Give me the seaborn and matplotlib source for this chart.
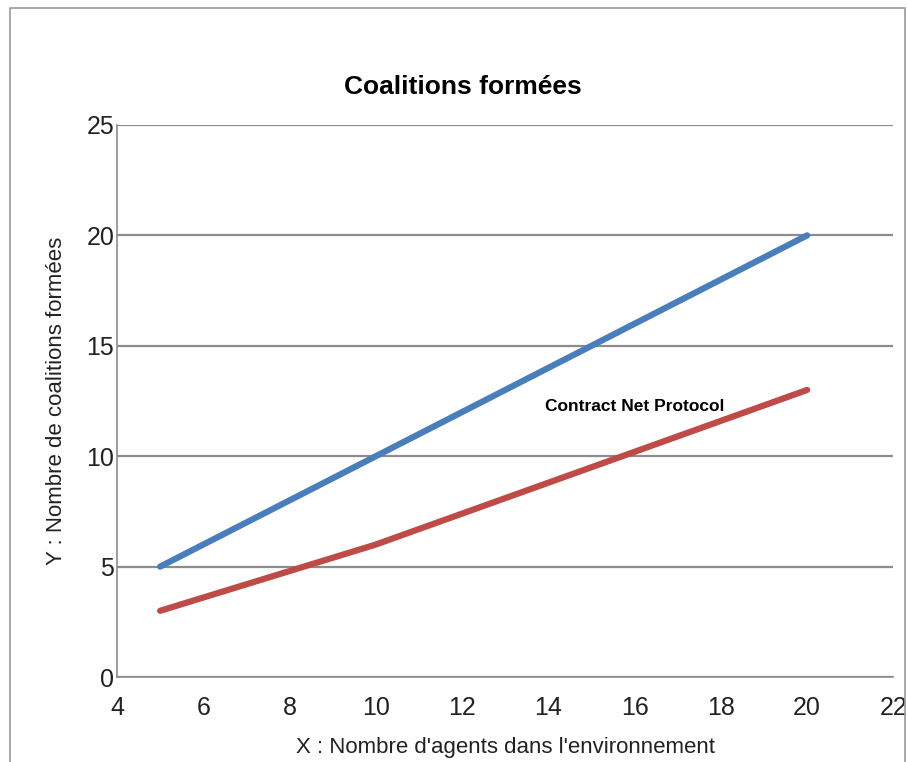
import pandas as pd
import matplotlib.pyplot as plt
import seaborn as sns
from matplotlib.patches import Rectangle

# data
agents = [5, 10, 15, 20]
coalitions_ours = [5, 10, 15, 20]
coalitions_cnp = [3, 6, 9.5, 13]

df = pd.DataFrame({
    "agents": agents * 2,
    "coalitions": coalitions_ours + coalitions_cnp,
    "serie": ["ours"] * 4 + ["Contract Net Protocol"] * 4,
})

sns.set_style("white")
plt.rcParams['font.family'] = ['Liberation Sans', 'DejaVu Sans']

fig = plt.figure(figsize=(9.07, 7.62), dpi=100)
ax = fig.add_axes([0.129, 0.1115, 0.856, 0.7245])

sns.lineplot(data=df, x="agents", y="coalitions", hue="serie",
             palette={"ours": "#4a7ebb", "Contract Net Protocol": "#be4b48"},
             linewidth=4.5, legend=False, ax=ax)

ax.set_xlim(4, 22)
ax.set_ylim(0, 25)
ax.set_xticks(range(4, 23, 2))
ax.set_yticks(range(0, 26, 5))
ax.yaxis.grid(True, color="#8c8c8c", linewidth=1.6)
ax.set_axisbelow(True)
for side in ["top", "right"]:
    ax.spines[side].set_visible(False)
for side in ["left", "bottom"]:
    ax.spines[side].set_color("#8c8c8c")
    ax.spines[side].set_linewidth(1.2)
ax.tick_params(axis="both", labelsize=18, length=0, colors="#222222")
ax.tick_params(axis="y", pad=2)
ax.tick_params(axis="x", pad=14)

ax.set_xlabel("X : Nombre d'agents dans l'environnement", fontsize=16, color="#222222", labelpad=12)
ax.set_ylabel("Y : Nombre de coalitions formées", fontsize=16, color="#222222", labelpad=14)

ax.text(13.93, 12.25, "Contract Net Protocol", fontsize=12.5, fontweight="bold",
        ha="left", va="center", color="black")

fig.text(0.51, 0.886, "Coalitions formées", fontsize=19, fontweight="bold",
         ha="center", va="center", color="black")

# outer frame of the picture
fig.patches.append(Rectangle((0.011, -0.01), 0.987, 1.0, transform=fig.transFigure,
                             fill=False, edgecolor="#9a9a9a", linewidth=1.2))

fig.savefig("out.png", dpi=100)
